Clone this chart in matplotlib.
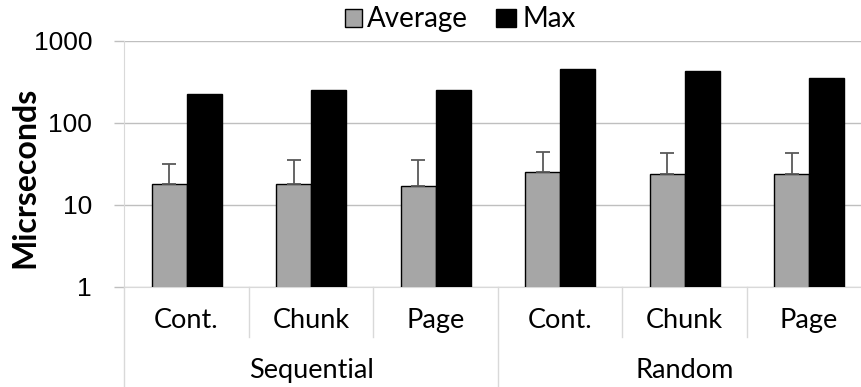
import numpy as np
import matplotlib
matplotlib.use('Agg')
import matplotlib.pyplot as plt
import matplotlib.transforms as mtransforms
from matplotlib.lines import Line2D
from matplotlib.patches import Rectangle
from matplotlib.ticker import NullLocator

groups = ['Sequential', 'Random']
subcats = ['Cont.', 'Chunk', 'Page']
avg = [17.7, 17.7, 16.8, 24.8, 23.9, 23.9]
avg_err = [13.9, 17.1, 18.2, 19.5, 18.5, 18.5]
mx = [224, 250, 250, 448, 427, 351]
ytick_vals = [1, 10, 100, 1000]
ytick_labels = ['1', '10', '100', '1000']

W, H = 862, 387
fig = plt.figure(figsize=(W / 100, H / 100), dpi=100)

def fy(py):
    return 1 - py / H

ax = fig.add_axes([124.3 / W, fy(287), 747 / W, (287 - 40.5) / H])
n = len(avg)
x = np.arange(n) + 0.5
w = 0.281
ax.bar(x - w / 2, avg, w, color='#a6a6a6', edgecolor='black', linewidth=1,
       yerr=[np.zeros(n), avg_err],
       error_kw=dict(ecolor='#595959', elinewidth=1.3, capsize=5, capthick=1.3),
       zorder=3)
ax.bar(x + w / 2, mx, w, color='black', edgecolor='black', linewidth=1, zorder=3)

ax.set_yscale('log')
ax.set_ylim(1, 1000)
ax.set_xlim(0, n)
ax.set_yticks(ytick_vals)
ax.set_yticklabels(ytick_labels, fontfamily='Liberation Sans', fontsize=19)
ax.yaxis.set_minor_locator(NullLocator())
ax.tick_params(axis='y', length=7.2, width=1, color='#bfbfbf', pad=16)
ax.set_xticks([])
ax.grid(axis='y', color='#bfbfbf', lw=1, zorder=0)
for s in ['top', 'right']:
    ax.spines[s].set_visible(False)
ax.spines['left'].set_color('#d9d9d9')
ax.spines['bottom'].set_color('#d9d9d9')

blend = mtransforms.blended_transform_factory(ax.transData, fig.transFigure)
labels = subcats * len(groups)
for i, lab in enumerate(labels):
    ax.text(x[i], fy(328), lab, transform=blend, ha='center', va='baseline',
            fontfamily='Lato', fontsize=19.5, color='black')
for g, lab in enumerate(groups):
    ax.text(g * 3 + 1.5, fy(378), lab, transform=blend, ha='center', va='baseline',
            fontfamily='Lato', fontsize=19.5, color='black')

for xs in [1, 2, 4, 5]:
    ax.add_line(Line2D([xs, xs], [fy(287), fy(337)], transform=blend, color='#d9d9d9',
                       lw=1, clip_on=False))
for xs in [0, 3, 6]:
    ax.add_line(Line2D([xs, xs], [fy(287), fy(387)], transform=blend, color='#d9d9d9',
                       lw=1, clip_on=False))

fig.text(25 / W, fy(177), 'Micrseconds', rotation=90, ha='center', va='center',
         fontfamily='Lato', fontweight='bold', fontsize=23)

# legend
fig.add_artist(Rectangle((345 / W, fy(26.7)), 17.3 / W, 17.4 / H, transform=fig.transFigure,
                         facecolor='#a6a6a6', edgecolor='black', lw=1))
fig.text(366.7 / W, fy(26.7), 'Average', ha='left', va='baseline', fontfamily='Lato', fontsize=20)
fig.add_artist(Rectangle((496 / W, fy(26.7)), 20 / W, 17.4 / H, transform=fig.transFigure,
                         facecolor='black', edgecolor='black', lw=1))
fig.text(522.7 / W, fy(26.7), 'Max', ha='left', va='baseline', fontfamily='Lato', fontsize=20)

fig.savefig('out.png', dpi=100)
